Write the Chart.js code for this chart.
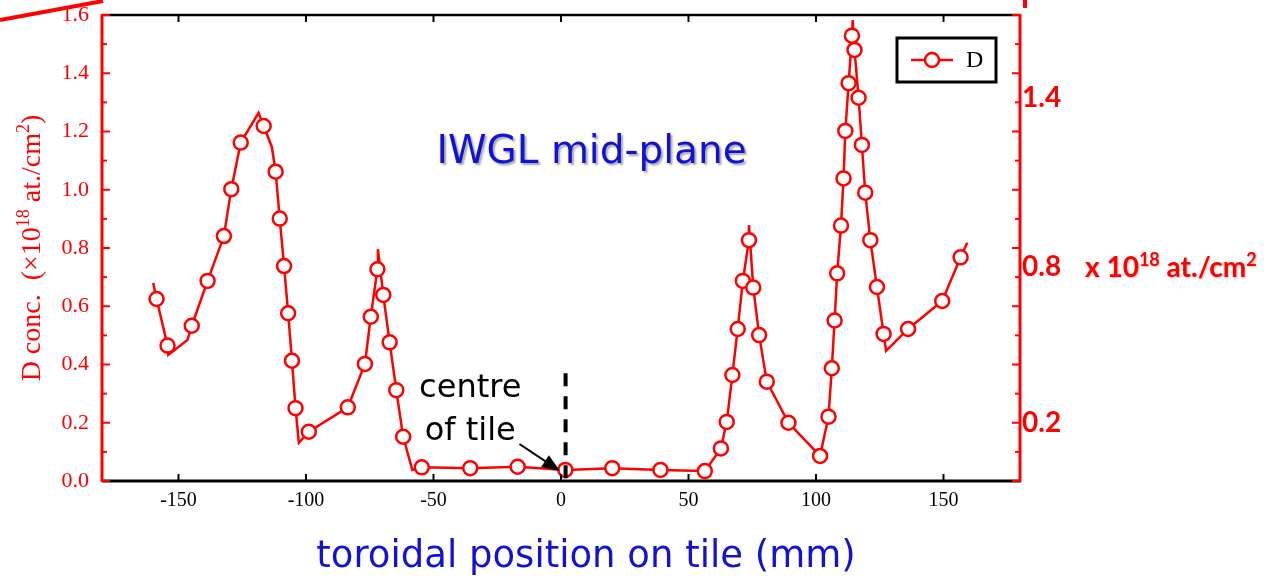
<!DOCTYPE html>
<html>
<head>
  <title>D concentration - IWGL mid-plane</title>
  <script src="https://cdn.jsdelivr.net/npm/chart.js"></script>
  <style>
    body { margin: 0; background: #fff; }
  </style>
</head>
<body>
  <canvas id="dChart" width="1274" height="580"></canvas>

  <script>
    // D markers: toroidal position (mm) and D conc. (x10^18 at./cm2)
    const posMm = [-158.6, -154.3, -144.8, -138.6, -132.2, -129.3, -125.6, -116.6, -111.9, -110.3,
      -108.6, -107.0, -105.5, -104.1, -98.9, -83.6, -76.9, -74.6, -72.0, -69.7,
      -67.2, -64.6, -61.9, -54.6, -35.6, -17.0, 1.7, 20.1, 39.0, 56.4,
      62.7, 65.0, 67.2, 69.3, 71.3, 73.7, 75.4, 77.7, 80.7, 89.2,
      101.6, 104.9, 106.2, 107.3, 108.3, 109.8, 110.8, 111.5, 112.8, 114.1,
      115.1, 116.7, 118.0, 119.3, 121.3, 123.9, 126.5, 136.1, 149.5, 156.7];
    const dConc = [0.625, 0.465, 0.533, 0.687, 0.841, 1.002, 1.162, 1.219, 1.062, 0.901,
      0.738, 0.576, 0.413, 0.250, 0.169, 0.253, 0.402, 0.564, 0.727, 0.639,
      0.476, 0.312, 0.152, 0.047, 0.044, 0.049, 0.038, 0.044, 0.038, 0.034,
      0.112, 0.203, 0.364, 0.522, 0.687, 0.827, 0.664, 0.501, 0.341, 0.200,
      0.086, 0.221, 0.387, 0.551, 0.713, 0.877, 1.039, 1.202, 1.366, 1.529,
      1.480, 1.316, 1.154, 0.990, 0.827, 0.666, 0.505, 0.522, 0.618, 0.768];

    // corners of the drawn line that carry no marker (bendAfter = markers before it)
    const bendAfter = [0, 2, 2, 7, 8, 14, 19, 23, 36, 50, 57, 60];
    const bendPos = [-159.9, -154.0, -146.5, -118.6, -113.4, -102.8, -71.8, -58.3, 73.7, 114.4, 127.5, 159.3];
    const bendConc = [0.680, 0.433, 0.484, 1.264, 1.147, 0.131, 0.796, 0.038, 0.879, 1.583, 0.447, 0.818];

    const xTicks = [-150, -100, -50, 0, 50, 100, 150];
    const yTicks = [0, 0.2, 0.4, 0.6, 0.8, 1.0, 1.2, 1.4, 1.6];
    const yMinor = [0.1, 0.3, 0.5, 0.7, 0.9, 1.1, 1.3, 1.5];
    // labels pasted on the right axis, at these heights of the left scale
    const rightLabels = ['1.4', '0.8', '0.2'];
    const rightLabelAt = [1.315, 0.735, 0.2];

    const RED = '#ff0000';
    const BLUE = '#1212d6';

    // build the line trace: markers plus the unmarked corners
    const markers = posMm.map((x, i) => ({ x: x, y: dConc[i] }));
    const trace = [];
    for (let i = 0; i <= markers.length; i++) {
      bendAfter.forEach((b, j) => {
        if (b === i) trace.push({ x: bendPos[j], y: bendConc[j] });
      });
      if (i < markers.length) trace.push(markers[i]);
    }

    function line(ctx, x1, y1, x2, y2) {
      ctx.beginPath();
      ctx.moveTo(x1, y1);
      ctx.lineTo(x2, y2);
      ctx.stroke();
    }

    // draw text runs with superscripts, starting at x, baseline y
    function runs(ctx, parts, x, y, base, sup, rise) {
      parts.forEach(p => {
        ctx.font = p.sup ? sup : base;
        ctx.fillText(p.t, x, p.sup ? y - rise : y);
        x += ctx.measureText(p.t).width;
      });
    }
    function runsWidth(ctx, parts, base, sup) {
      let w = 0;
      parts.forEach(p => { ctx.font = p.sup ? sup : base; w += ctx.measureText(p.t).width; });
      return w;
    }

    // axes boxes: fixed size, no extra padding for overhanging labels
    function fixBox(w, h) {
      return s => {
        if (w) s.width = w;
        if (h) s.height = h;
        s.paddingTop = 0;
        s.paddingBottom = 0;
        s.paddingLeft = 0;
        s.paddingRight = 0;
      };
    }

    const decorations = {
      id: 'decorations',
      afterDraw(chart) {
        const ctx = chart.ctx;
        const ca = chart.chartArea;
        const xs = chart.scales.x;
        const ys = chart.scales.y;
        ctx.save();

        // frame
        ctx.lineCap = 'butt';
        ctx.strokeStyle = '#000';
        ctx.lineWidth = 2.5;
        line(ctx, ca.left, ca.top, ca.right, ca.top);
        ctx.lineWidth = 3;
        line(ctx, ca.left, ca.bottom, ca.right + 1, ca.bottom);
        ctx.strokeStyle = RED;
        line(ctx, ca.left, ca.top - 1, ca.left, ca.bottom + 1);
        line(ctx, ca.right, ca.top - 1, ca.right, ca.bottom + 1);

        // inward tick marks
        ctx.lineWidth = 2;
        ctx.strokeStyle = '#000';
        xTicks.forEach(v => {
          const px = xs.getPixelForValue(v);
          line(ctx, px, ca.bottom, px, ca.bottom - 7);
          line(ctx, px, ca.top, px, ca.top + 7);
        });
        ctx.strokeStyle = RED;
        yTicks.concat(yMinor).forEach(v => {
          const py = ys.getPixelForValue(v);
          const len = yMinor.includes(v) ? 5 : 8;
          line(ctx, ca.left, py, ca.left + len, py);
          line(ctx, ca.right, py, ca.right - len, py);
        });

        // centre of tile marker
        ctx.strokeStyle = '#000';
        ctx.lineWidth = 4;
        ctx.setLineDash([13, 10]);
        const cx = xs.getPixelForValue(1.8);
        line(ctx, cx, ys.getPixelForValue(0.37), cx, ca.bottom + 7);
        ctx.setLineDash([]);

        const ax1 = xs.getPixelForValue(-16.3), ay1 = ys.getPixelForValue(0.127);
        const ax2 = xs.getPixelForValue(-0.4), ay2 = ys.getPixelForValue(0.034);
        const ang = Math.atan2(ay2 - ay1, ax2 - ax1);
        ctx.lineWidth = 2;
        line(ctx, ax1, ay1, ax2 - 12 * Math.cos(ang), ay2 - 12 * Math.sin(ang));
        ctx.fillStyle = '#000';
        ctx.beginPath();
        ctx.moveTo(ax2, ay2);
        ctx.lineTo(ax2 - 18 * Math.cos(ang) + 7 * Math.sin(ang), ay2 - 18 * Math.sin(ang) - 7 * Math.cos(ang));
        ctx.lineTo(ax2 - 18 * Math.cos(ang) - 7 * Math.sin(ang), ay2 - 18 * Math.sin(ang) + 7 * Math.cos(ang));
        ctx.closePath();
        ctx.fill();

        ctx.font = '32px "DejaVu Sans"';
        ctx.textAlign = 'center';
        ctx.textBaseline = 'alphabetic';
        ctx.fillText('centre', xs.getPixelForValue(-35.6), ys.getPixelForValue(0.288));
        ctx.fillText('of tile', xs.getPixelForValue(-35.6), ys.getPixelForValue(0.141));

        // plot title
        ctx.save();
        ctx.shadowColor = 'rgba(0,0,0,0.35)';
        ctx.shadowOffsetX = 2;
        ctx.shadowOffsetY = 2;
        ctx.shadowBlur = 2;
        ctx.fillStyle = BLUE;
        ctx.font = '39px "DejaVu Sans"';
        ctx.fillText('IWGL mid-plane', xs.getPixelForValue(12.0), ys.getPixelForValue(1.092));
        ctx.restore();

        // x axis title
        ctx.fillStyle = BLUE;
        ctx.font = '37px "DejaVu Sans"';
        ctx.fillText('toroidal position on tile (mm)', (ca.left + ca.right) / 2 + 25, 567);

        // legend
        const bx = ca.right - 123, by = ca.top + 23;
        ctx.strokeStyle = '#000';
        ctx.lineWidth = 3;
        ctx.strokeRect(bx, by, 99, 44);
        ctx.strokeStyle = RED;
        ctx.lineWidth = 2.5;
        line(ctx, bx + 14, by + 22, bx + 56, by + 22);
        ctx.fillStyle = '#fff';
        ctx.beginPath();
        ctx.arc(bx + 35, by + 22, 7, 0, Math.PI * 2);
        ctx.fill();
        ctx.stroke();
        ctx.fillStyle = '#000';
        ctx.font = '24px "Liberation Serif"';
        ctx.textAlign = 'left';
        ctx.textBaseline = 'middle';
        ctx.fillText(chart.data.datasets[1].label, bx + 69, by + 23);

        // left axis title, rotated
        ctx.textBaseline = 'alphabetic';
        ctx.fillStyle = RED;
        const lt = [{ t: 'D conc.  (×10' }, { t: '18', sup: true }, { t: ' at./cm' }, { t: '2', sup: true }, { t: ')' }];
        const lf = '28px "Liberation Serif"', ls = '18px "Liberation Serif"';
        ctx.save();
        ctx.translate(40, (ca.top + ca.bottom) / 2);
        ctx.rotate(-Math.PI / 2);
        runs(ctx, lt, -runsWidth(ctx, lt, lf, ls) / 2, 0, lf, ls, 11);
        ctx.restore();

        // unit note next to the right axis
        const rt = [{ t: 'x 10' }, { t: '18', sup: true }, { t: ' at./cm' }, { t: '2', sup: true }];
        ctx.save();
        ctx.shadowColor = 'rgba(0,0,0,0.25)';
        ctx.shadowOffsetX = 1;
        ctx.shadowOffsetY = 1;
        ctx.shadowBlur = 2;
        runs(ctx, rt, ca.right + 65, chart.scales.y2.getPixelForValue(0.735) + 10,
          'bold 28px Lato', 'bold 18px Lato', 11);
        ctx.restore();

        // slide edge marks
        ctx.strokeStyle = RED;
        ctx.lineWidth = 4;
        line(ctx, 0, 20, ca.left + 1, 1);
        line(ctx, ca.right + 5, 0, ca.right + 5, 8);

        ctx.restore();
      }
    };

    const ctx = document.getElementById('dChart').getContext('2d');
    new Chart(ctx, {
      type: 'line',
      data: {
        datasets: [{
          label: 'trace',
          data: trace,
          borderColor: RED,
          borderWidth: 2.5,
          pointRadius: 0,
          tension: 0,
          order: 2
        }, {
          label: 'D',
          data: markers,
          showLine: false,
          pointRadius: 7,
          pointBorderWidth: 2.5,
          pointBorderColor: RED,
          pointBackgroundColor: '#fff',
          order: 1
        }]
      },
      options: {
        responsive: false,
        animation: false,
        layout: { padding: { top: 15, left: 0, right: 0, bottom: 0 } },
        plugins: {
          legend: { display: false },
          tooltip: { enabled: false }
        },
        scales: {
          x: {
            type: 'linear',
            min: -180,
            max: 180,
            afterBuildTicks: s => { s.ticks = xTicks.map(v => ({ value: v })); },
            afterFit: fixBox(0, 99),
            grid: { display: false, drawTicks: false },
            border: { display: false },
            ticks: {
              color: '#000',
              font: { family: 'Liberation Serif', size: 20 },
              padding: 8,
              maxRotation: 0,
              autoSkip: false
            }
          },
          y: {
            position: 'left',
            min: 0,
            max: 1.6,
            afterBuildTicks: s => { s.ticks = yTicks.map(v => ({ value: v })); },
            afterFit: fixBox(102, 0),
            grid: { display: false, drawTicks: false },
            border: { display: false },
            ticks: {
              color: RED,
              font: { family: 'Liberation Serif', size: 22 },
              padding: 13,
              callback: v => v.toFixed(1)
            }
          },
          y2: {
            position: 'right',
            min: 0,
            max: 1.6,
            afterBuildTicks: s => { s.ticks = rightLabelAt.map(v => ({ value: v })); },
            afterFit: fixBox(254, 0),
            grid: { display: false, drawTicks: false },
            border: { display: false },
            ticks: {
              color: RED,
              font: { family: 'Lato', size: 28, weight: 'bold' },
              padding: 2,
              callback: (v, i) => rightLabels[i]
            }
          }
        }
      },
      plugins: [decorations]
    });
  </script>
</body>
</html>
